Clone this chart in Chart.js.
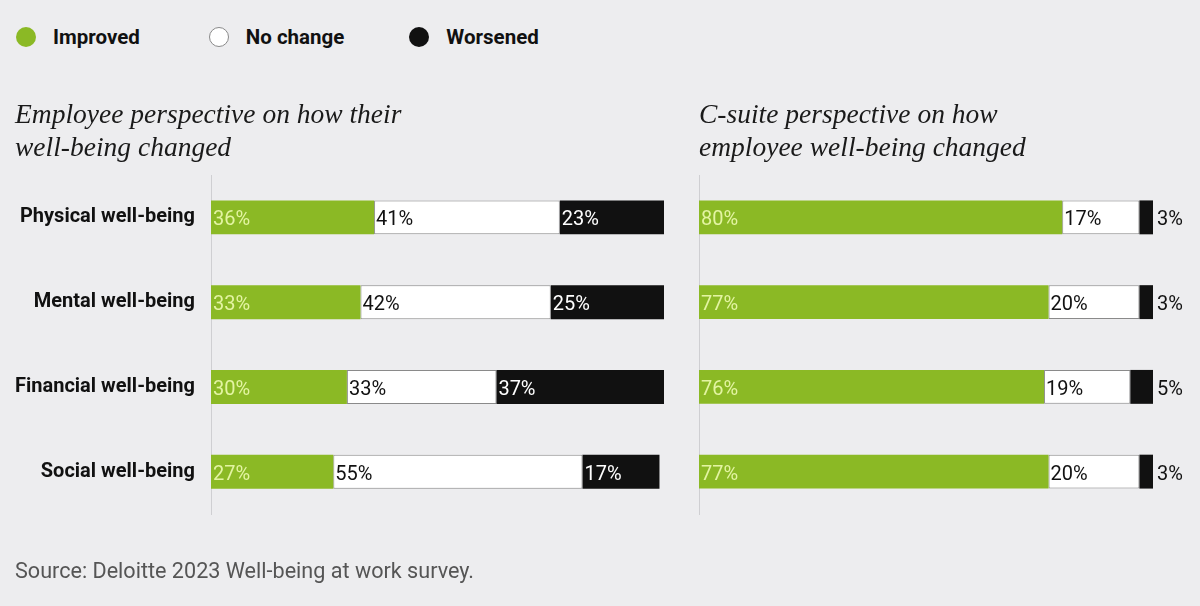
<!DOCTYPE html>
<html>
<head>
<meta charset="utf-8">
<script src="https://cdn.jsdelivr.net/npm/chart.js@4/dist/chart.umd.min.js"></script>
<style>
  html, body { margin: 0; padding: 0; background: #ededef; }
  body { width: 1200px; height: 606px; position: relative; overflow: hidden; }
  canvas { position: absolute; top: 0; }
  #legend { position: absolute; left: 16px; top: 25px; display: flex; align-items: center;
            font-family: Roboto, "DejaVu Sans Condensed", sans-serif;
            font-weight: bold; font-size: 20.5px; color: #111; }
  .item { display: flex; align-items: center; }
  .dot { width: 20px; height: 20px; border-radius: 50%; box-sizing: border-box; margin-right: 17px; }
</style>
</head>
<body>
<div id="legend"></div>
<canvas id="left" width="680" height="606" style="left:0"></canvas>
<canvas id="right" width="520" height="606" style="left:680px"></canvas>
<script>
const categories = ['Physical well-being', 'Mental well-being', 'Financial well-being', 'Social well-being'];
const seriesNames = ['Improved', 'No change', 'Worsened'];
const employeeImproved = [36, 33, 30, 27];
const employeeNoChange = [41, 42, 33, 55];
const employeeWorsened = [23, 25, 37, 17];
const csuiteImproved = [80, 77, 76, 77];
const csuiteNoChange = [17, 20, 19, 20];
const csuiteWorsened = [3, 3, 5, 3];
const titleEmployee = ['Employee perspective on how their', 'well-being changed'];
const titleCsuite = ['C-suite perspective on how', 'employee well-being changed'];
const sourceText = 'Source: Deloitte 2023 Well-being at work survey.';

const GREEN = '#8bb925', BLACK = '#111111', WHITE = '#ffffff';
const SANS = 'Roboto, "DejaVu Sans Condensed", sans-serif';
const SERIF = '"Liberation Serif", "DejaVu Serif", serif';
const labelColors = ['#e3f4a2', '#111111', '#ffffff'];
const legendGaps = [69, 65, 0];

function makeDatasets(a, b, c) {
  return [
    { label: seriesNames[0], data: a, backgroundColor: GREEN, borderWidth: 0 },
    { label: seriesNames[1], data: b, backgroundColor: WHITE, borderColor: '#8a8a8a', borderWidth: 1, borderSkipped: false },
    { label: seriesNames[2], data: c, backgroundColor: BLACK, borderWidth: 0 }
  ];
}

const valueLabels = {
  id: 'valueLabels',
  afterDatasetsDraw(chart, args, opts) {
    const ctx = chart.ctx;
    ctx.save();
    ctx.font = '20px ' + SANS;
    ctx.textBaseline = 'middle';
    ctx.textAlign = 'left';
    chart.data.datasets.forEach((ds, di) => {
      const meta = chart.getDatasetMeta(di);
      meta.data.forEach((el, i) => {
        const txt = ds.data[i] + '%';
        let x = Math.min(el.base, el.x) + 2;
        ctx.fillStyle = labelColors[di];
        if (opts.outsideLast && di === chart.data.datasets.length - 1) {
          x = Math.max(el.base, el.x) + 4;
          ctx.fillStyle = '#111111';
        }
        ctx.fillText(txt, x, el.y + 3);
      });
    });
    ctx.restore();
  }
};

function makeChart(id, a, b, c, title, cfg) {
  return new Chart(document.getElementById(id), {
    type: 'bar',
    data: { labels: categories, datasets: makeDatasets(a, b, c) },
    plugins: [valueLabels],
    options: {
      indexAxis: 'y',
      responsive: false,
      animation: false,
      events: [],
      layout: { padding: { left: cfg.padLeft, right: cfg.padRight, top: 0, bottom: cfg.padBottom } },
      datasets: { bar: { categoryPercentage: 1, barPercentage: 0.4 } },
      scales: {
        x: { stacked: true, min: 0, max: 100, display: false },
        y: {
          stacked: true,
          grid: { display: false, drawTicks: false },
          border: { display: true, color: '#cfcfd2', width: 1 },
          ticks: { display: cfg.showTicks, padding: 16, color: '#111',
                   font: { family: SANS, size: 20, weight: 'bold' } },
          afterFit(scale) { scale.width = cfg.axisWidth; }
        }
      },
      plugins: {
        legend: { display: false },
        tooltip: { enabled: false },
        valueLabels: { outsideLast: cfg.outsideLast },
        title: {
          display: true, text: title, align: 'start', color: '#1a1a1a',
          font: { family: SERIF, size: 27.5, style: 'italic', weight: 'normal', lineHeight: 1.2 },
          padding: { top: 99, bottom: 10 }
        },
        subtitle: cfg.source ? {
          display: true, position: 'bottom', align: 'start', text: cfg.source, color: '#555',
          font: { family: SANS, size: 21.6, weight: 'normal', lineHeight: 1.1 },
          padding: { top: 46, bottom: 22 }
        } : { display: false }
      }
    }
  });
}

const left = makeChart('left', employeeImproved, employeeNoChange, employeeWorsened, titleEmployee,
  { padLeft: 15, padRight: 16, padBottom: 0, axisWidth: 196, showTicks: true, outsideLast: false, source: sourceText });
const right = makeChart('right', csuiteImproved, csuiteNoChange, csuiteWorsened, titleCsuite,
  { padLeft: 19, padRight: 47, padBottom: 92, axisWidth: 0, showTicks: false, outsideLast: true, source: null });

// HTML legend built from the chart's legend items
const legendEl = document.getElementById('legend');
Chart.defaults.plugins.legend.labels.generateLabels(left).forEach((item, i) => {
  const d = document.createElement('div'); d.className = 'item';
  d.style.marginRight = legendGaps[i] + 'px';
  const dot = document.createElement('span'); dot.className = 'dot';
  dot.style.background = item.fillStyle;
  if (item.text === 'No change') dot.style.border = '1px solid #8a8a8a';
  const t = document.createElement('span'); t.textContent = item.text;
  d.appendChild(dot); d.appendChild(t); legendEl.appendChild(d);
});
</script>
</body>
</html>
